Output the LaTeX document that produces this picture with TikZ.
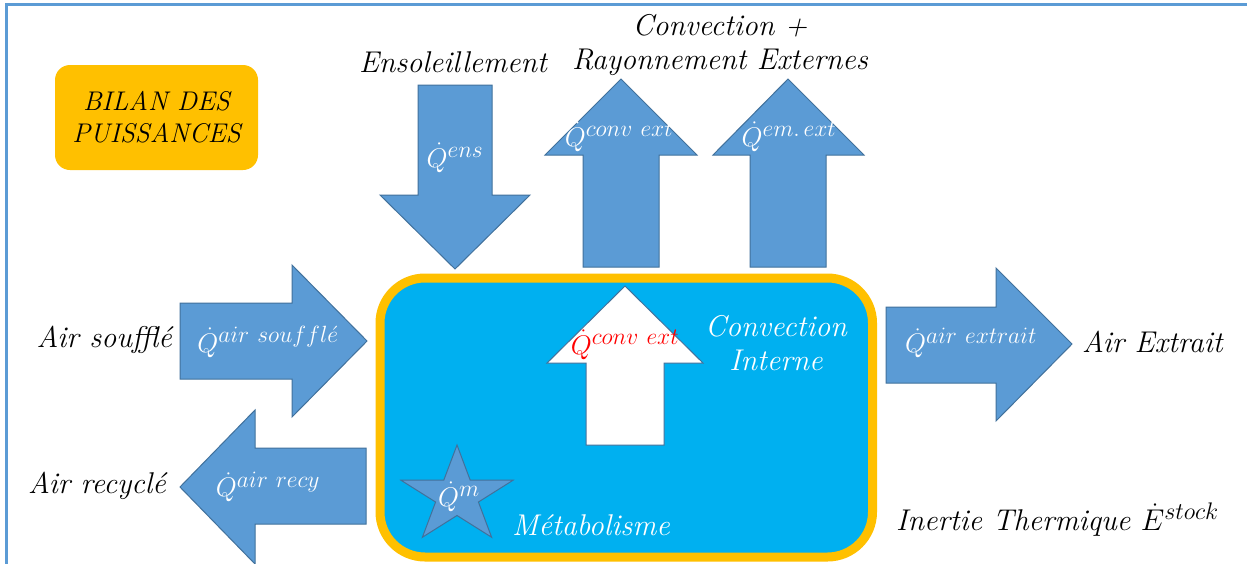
\RequirePackage{fix-cm}
\documentclass[tikz,border=0pt]{standalone}
\usepackage{amsmath}
\usepackage{fontspec}
\usepackage{tikz}
\usetikzlibrary{positioning}
\definecolor{ArrowBlue}{RGB}{91, 155, 213}
\definecolor{ArrowEdge}{RGB}{65, 113, 156}
\definecolor{RoomBlue}{RGB}{0, 176, 240}
\definecolor{GoldColor}{RGB}{255, 192, 0}
\definecolor{FrameBlue}{RGB}{91, 155, 213}
\DeclareMathSizes{27}{27}{23.5}{18}
\DeclareMathSizes{30}{30}{24}{18}

\begin{document}
\begin{tikzpicture}[x=1pt, y=-1pt, line join=miter,
  fat/.style={draw=ArrowEdge, fill=ArrowBlue, line width=1pt},
  txt/.style={font=\fontsize{30}{34}\selectfont\itshape, inner sep=0pt},
  flux/.style={font=\fontsize{27}{30}\selectfont, text=white, inner sep=0pt}]

\clip (0,0) rectangle (1247,563);
\fill[white] (0,0) rectangle (1247,563);
\draw[FrameBlue, line width=2.5pt] (6.5,600) |- (1300,4.5);

\node[fill=GoldColor, rounded corners=15pt, minimum width=203pt, minimum height=105pt, txt, font=\fontsize{27}{32}\selectfont\itshape, align=center] (bilan) at (156.5,117.5) {BILAN DES\\PUISSANCES};

% piece
\draw[GoldColor, line width=9pt, fill=RoomBlue, rounded corners=45pt] (380,278) rectangle (872.5,557);

% fleches externes
\draw[fat] (418,85) -- (492,85) -- (492,195) -- (530,195) -- (455,269) -- (380,195) -- (418,195) -- cycle;
\draw[fat] (583,267) -- (583,155) -- (545,155) -- (621,79) -- (697,155) -- (659,155) -- (659,267) -- cycle;
\draw[fat] (750,267) -- (750,155) -- (713,155) -- (788,79) -- (864,155) -- (826,155) -- (826,267) -- cycle;
\draw[fat] (180,303) -- (292,303) -- (292,265) -- (367,341) -- (292,417) -- (292,379) -- (180,379) -- cycle;
\draw[fat] (366,448) -- (255,448) -- (255,410) -- (180,487) -- (255,564) -- (255,524) -- (366,524) -- cycle;
\draw[fat] (886,307) -- (996,307) -- (996,268) -- (1072,344) -- (996,421) -- (996,383) -- (886,383) -- cycle;

% convection interne
\draw[fat, fill=white] (586,445) -- (586,363) -- (547,363) -- (625,286) -- (703,363) -- (664,363) -- (664,445) -- cycle;

% metabolisme
\begin{scope}[shift={(457,496)}, xscale=1.155]
  \draw[fat] (-90:51) \foreach \a/\r in {-54/19.5, -18/51, 18/19.5, 54/51, 90/19.5, 126/51, 162/19.5, 198/51, 234/19.5} { -- (\a:\r) } -- cycle;
\end{scope}

\node[flux] (qens)   at (455,158) {$\dot{Q}^{ens}$};
\node[flux] (qconv)  at (619,137) {$\dot{Q}^{conv\ ext}$};
\node[flux] (qem)    at (789,137) {$\dot{Q}^{em.\,ext}$};
\node[flux] (qsouf)  at (268,342) {$\dot{Q}^{air\ souffl\acute{e}}$};
\node[flux] (qrecy)  at (268,487) {$\dot{Q}^{air\ recy}$};
\node[flux] (qextr)  at (971,343) {$\dot{Q}^{air\ extrait}$};
\node[flux, text=red] (qint) at (625,345) {$\dot{Q}^{conv\ ext}$};
\node[flux] (qm)     at (459,497) {$\dot{Q}^{m}$};

\node[txt] (ensol) at (453,62) {Ensoleillement};
\node[txt, align=center] (convray) at (720,45) {Convection +\\Rayonnement Externes};
\node[txt, anchor=east] (souffle) at (172,340) {Air soufflé};
\node[txt, anchor=east] (recycle) at (166,486) {Air recyclé};
\node[txt, anchor=west] (extrait) at (1082,342) {Air Extrait};
\node[txt, anchor=west] (inertie) at (896,520) {Inertie Thermique $\dot{E}^{stock}$};
\node[txt, text=white, align=center] (convint) at (776,343) {Convection\\Interne};
\node[txt, text=white, anchor=west] (metab) at (512,525) {Métabolisme};

\end{tikzpicture}
\end{document}
